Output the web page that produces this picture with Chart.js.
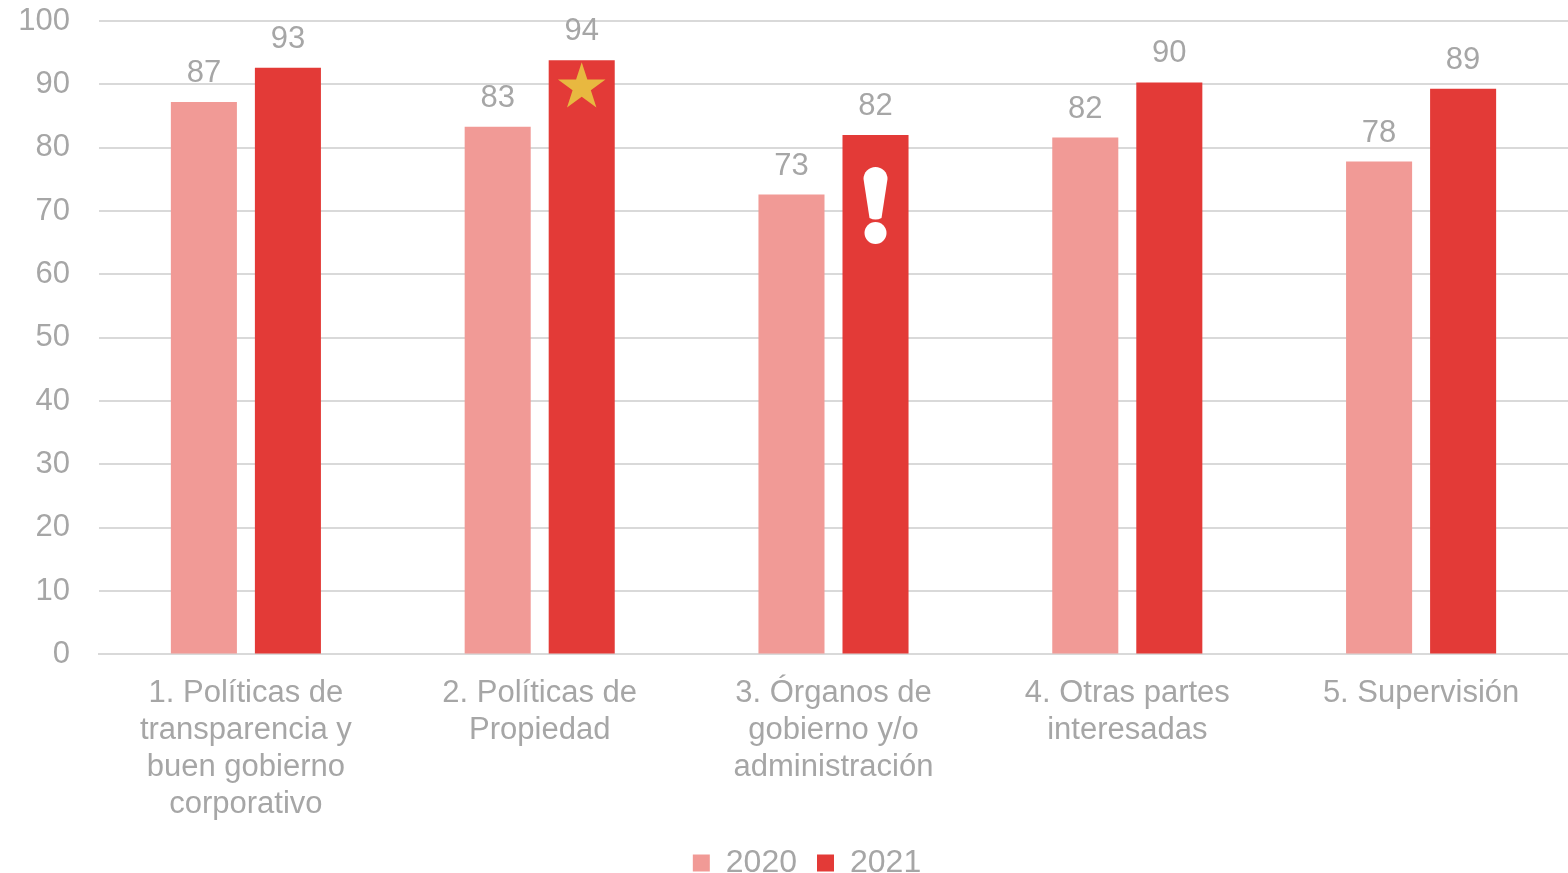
<!DOCTYPE html>
<html lang="es">
<head>
    <meta charset="utf-8">
    <title>Políticas 2020 vs 2021</title>
    <script src="https://cdn.jsdelivr.net/npm/chart.js"></script>
    <style>
        body { margin: 0; background: #fff; }
        #chartBox { width: 1568px; height: 873px; }
    </style>
</head>
<body>

<div id="chartBox"><canvas id="barChart"></canvas></div>

<script>
// categories (multi-line labels) and the two series
const categories = [
    ['1. Políticas de', 'transparencia y', 'buen gobierno', 'corporativo'],
    ['2. Políticas de', 'Propiedad'],
    ['3. Órganos de', 'gobierno y/o', 'administración'],
    ['4. Otras partes', 'interesadas'],
    ['5. Supervisión']
];
const years = ['2020', '2021'];
const values2020 = [87.2, 83.3, 72.6, 81.6, 77.8];
const values2021 = [92.6, 93.8, 82.0, 90.3, 89.3];
// icon drawn inside the 2021 bar of each category
const icons2021 = ['', 'star', 'alert', '', ''];

const grey = '#a6a6a6';
const font = 'Liberation Sans, Arial, sans-serif';

// numbers above the bars + the star / exclamation icons
const barLabels = {
    id: 'barLabels',
    afterLayout(chart) {
        // the legend sits a bit right of centre in the original
        chart.legend.left += 23;
        chart.legend.right += 23;
    },
    afterDatasetsDraw(chart) {
        const ctx = chart.ctx;
        ctx.save();
        chart.data.datasets.forEach((ds, i) => {
            chart.getDatasetMeta(i).data.forEach((bar, j) => {
                ctx.fillStyle = grey;
                ctx.font = '31px ' + font;
                ctx.textAlign = 'center';
                ctx.textBaseline = 'alphabetic';
                ctx.fillText(Math.round(ds.data[j]), bar.x, bar.y - 20);

                if (i == 1 && icons2021[j] == 'star') {
                    drawStar(ctx, bar.x, bar.y + 27, 25, 9.6);
                }
                if (i == 1 && icons2021[j] == 'alert') {
                    drawAlert(ctx, bar.x, bar.y);
                }
            });
        });
        ctx.restore();
    }
};

function drawStar(ctx, cx, cy, outer, inner) {
    ctx.beginPath();
    for (let k = 0; k < 10; k++) {
        const r = k % 2 == 0 ? outer : inner;
        const a = -Math.PI / 2 + k * Math.PI / 5;
        ctx.lineTo(cx + r * Math.cos(a), cy + r * Math.sin(a));
    }
    ctx.closePath();
    ctx.fillStyle = '#e8b840';
    ctx.fill();
}

// rounded exclamation mark, top of it sits ~36px under the bar top
function drawAlert(ctx, cx, top) {
    ctx.fillStyle = '#ffffff';
    ctx.beginPath();
    ctx.moveTo(cx - 12, top + 44);
    ctx.arc(cx, top + 44, 12, Math.PI, 0);
    ctx.lineTo(cx + 6, top + 83);
    ctx.quadraticCurveTo(cx, top + 86, cx - 6, top + 83);
    ctx.closePath();
    ctx.fill();
    ctx.beginPath();
    ctx.arc(cx, top + 98, 11, 0, Math.PI * 2);
    ctx.fill();
}

new Chart(document.getElementById('barChart'), {
    type: 'bar',
    data: {
        labels: categories,
        datasets: [
            { label: years[0], data: values2020, backgroundColor: '#f19a96', borderWidth: 0 },
            { label: years[1], data: values2021, backgroundColor: '#e33a37', borderWidth: 0 }
        ]
    },
    options: {
        responsive: true,
        maintainAspectRatio: false,
        animation: false,
        categoryPercentage: 0.572,
        barPercentage: 0.786,
        layout: { padding: { left: 0, right: 0, top: 0, bottom: -16 } },
        plugins: {
            tooltip: { enabled: false },
            legend: {
                position: 'bottom',
                labels: {
                    color: grey,
                    font: { size: 32, family: font },
                    boxWidth: 17,
                    boxHeight: 17,
                    padding: 20
                }
            }
        },
        scales: {
            x: {
                grid: { display: false },
                border: { color: '#d9d9d9', width: 2 },
                ticks: {
                    color: grey,
                    font: { size: 31, family: font, lineHeight: 1.19 },
                    padding: 13,
                    maxRotation: 0
                },
                afterFit(scale) {
                    scale.height -= 9;
                }
            },
            y: {
                min: 0,
                max: 100,
                ticks: {
                    stepSize: 10,
                    color: grey,
                    font: { size: 31, family: font },
                    padding: 29
                },
                grid: { color: '#d9d9d9', lineWidth: 2, drawTicks: false },
                border: { display: false },
                // keep the plot box where the original has it
                afterFit(scale) {
                    scale.width = 99;
                    scale.paddingTop = 21;
                }
            }
        }
    },
    plugins: [barLabels]
});
</script>
</body>
</html>
